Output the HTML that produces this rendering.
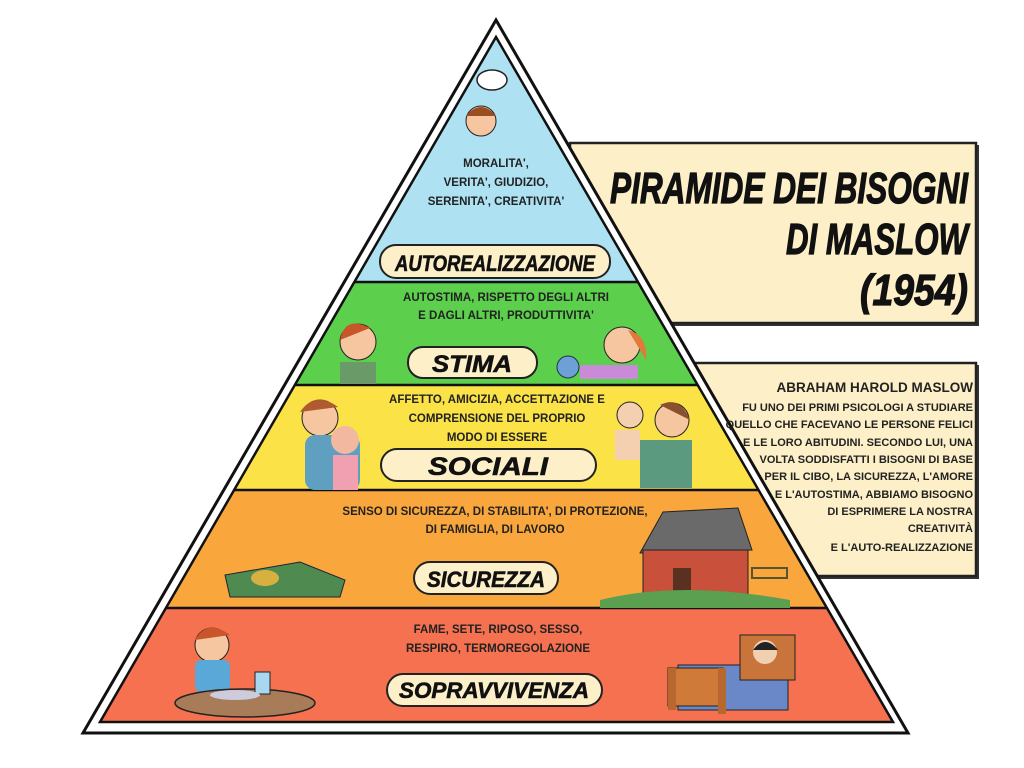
<!DOCTYPE html>
<html><head><meta charset="utf-8"><style>
html,body{margin:0;padding:0;background:#fff;}
svg{display:block}
.t{font-family:"Liberation Sans",sans-serif;font-weight:bold;fill:#222;}
.lab{font-family:"Liberation Sans",sans-serif;font-weight:bold;font-style:italic;fill:#111;}
</style></head><body>
<svg width="1024" height="768" viewBox="0 0 1024 768" xmlns="http://www.w3.org/2000/svg">
<rect x="572" y="145" width="407" height="181" fill="#333"/>
<rect x="570" y="143" width="406" height="180" fill="#fdf0c8" stroke="#222" stroke-width="2.5"/>
<rect x="692" y="365" width="287" height="214" fill="#333"/>
<rect x="690" y="363" width="286" height="213" fill="#fdf0c8" stroke="#222" stroke-width="2.5"/>
<polygon points="496,20 908,733 83,733" fill="#fff" stroke="#111" stroke-width="3"/>
<polygon points="496,37 638,282 354,282" fill="#aee2f2"/>
<polygon points="354,282 638,282 698,385 295,385" fill="#5ccf4c"/>
<polygon points="295,385 698,385 759,490 234,490" fill="#fbe246"/>
<polygon points="234,490 759,490 827,608 166,608" fill="#f9a73c"/>
<polygon points="166,608 827,608 893,722 100,722" fill="#f5714f"/>
<g stroke="#111" stroke-width="2.5">
<line x1="354" y1="282" x2="638" y2="282"/><line x1="295" y1="385" x2="698" y2="385"/>
<line x1="234" y1="490" x2="759" y2="490"/><line x1="166" y1="608" x2="827" y2="608"/>
</g>
<polygon points="496,37 893,722 100,722" fill="none" stroke="#111" stroke-width="2.5"/>

<ellipse cx="492" cy="80" rx="15" ry="10" fill="#fff" stroke="#222" stroke-width="1.5"/>
<circle cx="481" cy="121" r="15" fill="#f5c6a0" stroke="#222"/><path d="M466 116 q15 -18 30 0" fill="#9b4d22"/>
<circle cx="358" cy="342" r="18" fill="#f5c6a0" stroke="#222"/><path d="M340 340 q5 -25 30 -12" fill="#c9562a"/>
<rect x="340" y="362" width="36" height="22" fill="#6a9a68"/>
<circle cx="622" cy="345" r="18" fill="#f5c6a0" stroke="#222"/><path d="M628 330 q20 5 18 30" fill="#e07a3a"/>
<rect x="580" y="365" width="58" height="14" fill="#c98ad8"/>
<circle cx="568" cy="367" r="11" fill="#6ea0d8" stroke="#234"/>
<circle cx="320" cy="418" r="18" fill="#f5c6a0" stroke="#222"/><path d="M300 412 q15 -22 38 -5" fill="#b05a30"/>
<rect x="305" y="435" width="55" height="55" rx="10" fill="#5fa0c0"/>
<circle cx="345" cy="440" r="14" fill="#f2b8a0"/><rect x="333" y="455" width="25" height="35" fill="#f0a0b0"/>
<circle cx="630" cy="415" r="13" fill="#f5d0b0" stroke="#222"/><rect x="615" y="430" width="25" height="30" fill="#f5d0b0"/>
<circle cx="672" cy="420" r="17" fill="#f5c6a0" stroke="#222"/><path d="M660 405 q20 -10 30 15" fill="#8a5030"/>
<rect x="640" y="440" width="52" height="48" fill="#5c9a80"/>
<polygon points="225,575 300,562 345,580 340,597 230,597" fill="#4f8a50" stroke="#223"/>
<ellipse cx="265" cy="578" rx="14" ry="8" fill="#d8b040"/>
<polygon points="640,553 663,512 738,508 752,550" fill="#6a6a6a" stroke="#222"/>
<rect x="643" y="550" width="105" height="45" fill="#c9503a" stroke="#222"/>
<rect x="673" y="568" width="18" height="27" fill="#5a3020"/>
<path d="M600 600 q80 -20 190 0 l0 8 l-190 0 z" fill="#5aa050"/>
<rect x="752" y="568" width="35" height="10" fill="none" stroke="#553" stroke-width="2"/>
<circle cx="212" cy="645" r="17" fill="#f5c6a0" stroke="#222"/><path d="M195 640 q12 -22 35 -5" fill="#c9562a"/>
<rect x="195" y="660" width="35" height="32" rx="6" fill="#5aa8d8"/>
<ellipse cx="245" cy="703" rx="70" ry="14" fill="#a87c58" stroke="#222" stroke-width="1.5"/>
<rect x="255" y="672" width="15" height="22" fill="#a8d8f0" stroke="#222"/>
<ellipse cx="235" cy="695" rx="25" ry="5" fill="#ccd"/>
<rect x="678" y="665" width="110" height="45" fill="#6a88c8" stroke="#222"/>
<rect x="668" y="668" width="55" height="38" fill="#d07a3a" stroke="#222"/>
<rect x="740" y="635" width="55" height="45" fill="#c8743a" stroke="#222"/>
<circle cx="765" cy="652" r="12" fill="#f0d0b0"/><path d="M753 650 q12 -16 25 0" fill="#222"/>
<rect x="718" y="668" width="8" height="46" fill="#b8682e"/><rect x="668" y="668" width="8" height="42" fill="#b8682e"/>

<g class="t" font-size="11.5" text-anchor="middle">
<text x="496" y="167">MORALITA',</text>
<text x="496" y="186">VERITA', GIUDIZIO,</text>
<text x="496" y="205">SERENITA', CREATIVITA'</text>
<text x="506" y="301">AUTOSTIMA, RISPETTO DEGLI ALTRI</text>
<text x="506" y="319">E DAGLI ALTRI, PRODUTTIVITA'</text>
<text x="497" y="403">AFFETTO, AMICIZIA, ACCETTAZIONE E</text>
<text x="497" y="422">COMPRENSIONE DEL PROPRIO</text>
<text x="497" y="441">MODO DI ESSERE</text>
<text x="495" y="515">SENSO DI SICUREZZA, DI STABILITA', DI PROTEZIONE,</text>
<text x="495" y="533">DI FAMIGLIA, DI LAVORO</text>
<text x="498" y="633">FAME, SETE, RIPOSO, SESSO,</text>
<text x="498" y="652">RESPIRO, TERMOREGOLAZIONE</text>
</g>
<g fill="#fdf0c8" stroke="#222" stroke-width="2">
<rect x="380" y="245" width="230" height="33" rx="16"/>
<rect x="408" y="347" width="129" height="31" rx="15"/>
<rect x="381" y="449" width="215" height="32" rx="16"/>
<rect x="414" y="562" width="144" height="32" rx="16"/>
<rect x="387" y="674" width="215" height="32" rx="16"/>
</g>
<g class="lab" text-anchor="middle" stroke="#111" stroke-width="0.6">
<text x="495" y="271" font-size="22" textLength="200" lengthAdjust="spacingAndGlyphs">AUTOREALIZZAZIONE</text>
<text x="472" y="372" font-size="24" textLength="80" lengthAdjust="spacingAndGlyphs">STIMA</text>
<text x="488" y="475" font-size="25" textLength="120" lengthAdjust="spacingAndGlyphs">SOCIALI</text>
<text x="486" y="587" font-size="22" textLength="118" lengthAdjust="spacingAndGlyphs">SICUREZZA</text>
<text x="494" y="698" font-size="22" textLength="190" lengthAdjust="spacingAndGlyphs">SOPRAVVIVENZA</text>
</g>
<g class="lab" text-anchor="end" font-size="44" stroke="#111" stroke-width="1.2">
<text x="968" y="203" textLength="358" lengthAdjust="spacingAndGlyphs">PIRAMIDE DEI BISOGNI</text>
<text x="968" y="254" textLength="182" lengthAdjust="spacingAndGlyphs">DI MASLOW</text>
<text x="968" y="305" textLength="108" lengthAdjust="spacingAndGlyphs">(1954)</text>
</g>
<g class="t" text-anchor="end" font-size="11">
<text x="973" y="392" font-size="13.5">ABRAHAM HAROLD MASLOW</text>
<text x="973" y="411">FU UNO DEI PRIMI PSICOLOGI A STUDIARE</text>
<text x="973" y="428">QUELLO CHE FACEVANO LE PERSONE FELICI</text>
<text x="973" y="446">E LE LORO ABITUDINI. SECONDO LUI, UNA</text>
<text x="973" y="463">VOLTA SODDISFATTI I BISOGNI DI BASE</text>
<text x="973" y="480">PER IL CIBO, LA SICUREZZA, L'AMORE</text>
<text x="973" y="498">E L'AUTOSTIMA, ABBIAMO BISOGNO</text>
<text x="973" y="515">DI ESPRIMERE LA NOSTRA</text>
<text x="973" y="532">CREATIVITÀ</text>
<text x="973" y="551">E L'AUTO-REALIZZAZIONE</text>
</g>
</svg>
</body></html>
